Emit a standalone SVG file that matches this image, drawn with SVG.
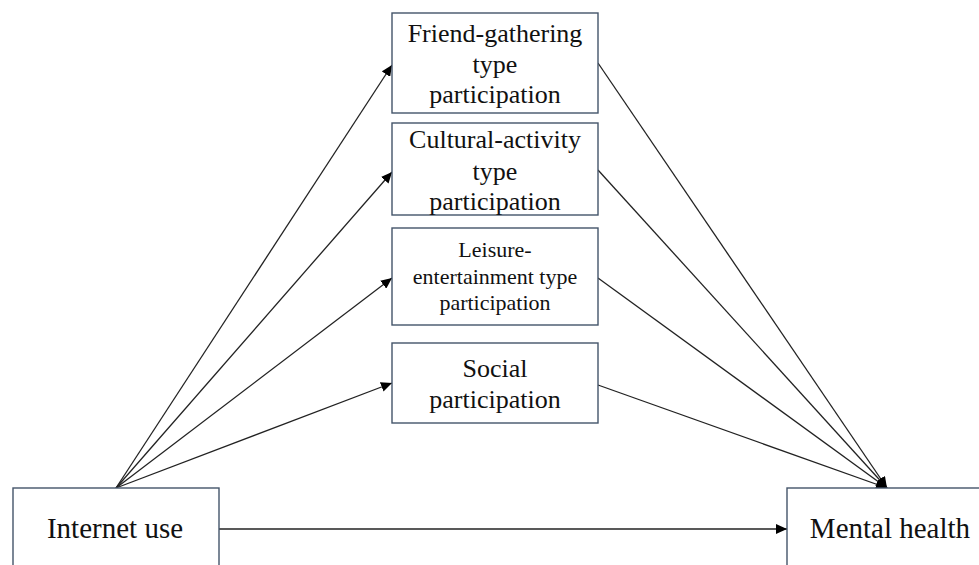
<svg xmlns="http://www.w3.org/2000/svg" width="979" height="565" viewBox="0 0 979 565">
<defs>
<style>
.box{fill:#fff;stroke:#44546a;stroke-width:1.4}
.t{font-family:"Liberation Serif","Times New Roman",serif;fill:#111;text-anchor:middle}
.l{font-size:26px}
.s{font-size:22px}
.b{font-size:29px}
.c{stroke:#222;stroke-width:1.3;fill:none;marker-end:url(#ah)}
</style>
<marker id="ah" markerUnits="userSpaceOnUse" markerWidth="12" markerHeight="10" refX="11" refY="5" orient="auto">
<path d="M0,0 L11,5 L0,10 Z" fill="#000"/>
</marker>
</defs>
<rect width="979" height="565" fill="#fff"/>
<g id="connectors">
<line class="c" x1="116" y1="488" x2="392" y2="65"/>
<line class="c" x1="116" y1="488" x2="392" y2="172"/>
<line class="c" x1="116" y1="488" x2="392" y2="278"/>
<line class="c" x1="116" y1="488" x2="392" y2="383"/>
<line class="c" x1="598" y1="63" x2="887" y2="488"/>
<line class="c" x1="598" y1="170" x2="887" y2="488"/>
<line class="c" x1="598" y1="278" x2="887" y2="488"/>
<line class="c" x1="598" y1="385" x2="887" y2="488"/>
<line class="c" x1="219" y1="529" x2="787" y2="529"/>
</g>
<g id="friend">
<rect class="box" x="392" y="13" width="206" height="100"/>
<text class="t l" x="495" y="42">Friend-gathering</text>
<text class="t l" x="495" y="73">type</text>
<text class="t l" x="495" y="103">participation</text>
</g>
<g id="cultural">
<rect class="box" x="392" y="123" width="206" height="92"/>
<text class="t l" x="495" y="148">Cultural-activity</text>
<text class="t l" x="495" y="180">type</text>
<text class="t l" x="495" y="210">participation</text>
</g>
<g id="leisure">
<rect class="box" x="392" y="228" width="206" height="97"/>
<text class="t s" x="495" y="257">Leisure-</text>
<text class="t s" x="495" y="284">entertainment type</text>
<text class="t s" x="495" y="310">participation</text>
</g>
<g id="social">
<rect class="box" x="392" y="343" width="206" height="80"/>
<text class="t l" x="495" y="377">Social</text>
<text class="t l" x="495" y="408">participation</text>
</g>
<g id="internet">
<rect class="box" x="13" y="488" width="206" height="90"/>
<text class="t b" x="115" y="538">Internet use</text>
</g>
<g id="mental">
<rect class="box" x="787" y="488" width="206" height="90"/>
<text class="t b" x="890" y="538">Mental health</text>
</g>
</svg>
